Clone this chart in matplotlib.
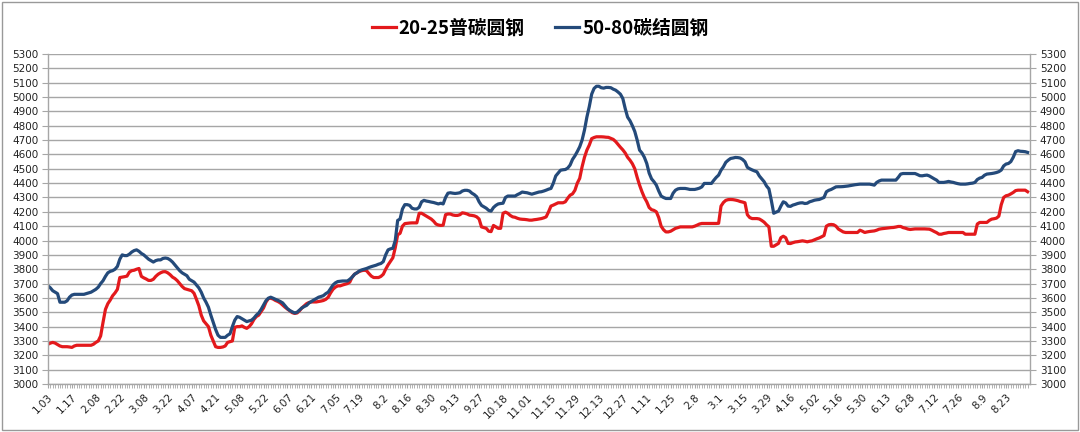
import matplotlib
matplotlib.use("Agg")
import matplotlib.pyplot as plt
import numpy as np
from matplotlib.patches import Rectangle

plt.rcParams['font.family'] = ['Noto Sans CJK SC', 'DejaVu Sans']

# tick labels, one every 10 trading days
tick_labels = ['1.03', '1.17', '2.08', '2.22', '3.08', '3.22', '4.07', '4.21', '5.08', '5.22',
               '6.07', '6.21', '7.05', '7.19', '8.2', '8.16', '8.30', '9.13', '9.27', '10.18',
               '11.01', '11.15', '11.29', '12.13', '12.27', '1.11', '1.25', '2.8', '3.1', '3.15',
               '3.29', '4.16', '5.02', '5.16', '5.30', '6.13', '6.28', '7.12', '7.26', '8.9', '8.23']

# 20-25 普碳圆钢 (red)
plain = [
    3277, 3285, 3290, 3285, 3275, 3265, 3260, 3260, 3260, 3258,
    3255, 3265, 3270, 3270, 3270, 3270, 3270, 3270, 3270, 3277,
    3290, 3300, 3335, 3430, 3520, 3560, 3585, 3615, 3635, 3660,
    3742, 3745, 3748, 3752, 3780, 3790, 3793, 3800, 3805, 3750,
    3740, 3732, 3722, 3722, 3730, 3750, 3765, 3775, 3782, 3783,
    3775, 3762, 3745, 3735, 3720, 3700, 3680, 3665, 3660, 3655,
    3650, 3632, 3590, 3545, 3480, 3440, 3420, 3400, 3340, 3300,
    3260, 3255, 3255, 3258, 3265, 3290, 3295, 3300, 3395, 3400,
    3400, 3405, 3395, 3388, 3400, 3420, 3450, 3470, 3480, 3505,
    3530, 3570, 3595, 3598, 3592, 3582, 3575, 3565, 3550, 3535,
    3522, 3510, 3497, 3492, 3495, 3510, 3530, 3545, 3560, 3568,
    3572, 3572, 3572, 3575, 3578, 3582, 3590, 3605, 3635, 3660,
    3675, 3684, 3684, 3690, 3695, 3700, 3710, 3745, 3765, 3775,
    3784, 3790, 3793, 3790, 3770, 3752, 3742, 3742, 3742, 3750,
    3765, 3800, 3830, 3855, 3880, 3950, 4040, 4050, 4100, 4118,
    4120, 4122, 4123, 4123, 4123, 4190, 4190, 4180, 4170, 4160,
    4150, 4135, 4115, 4108, 4105, 4107, 4180, 4185, 4185, 4178,
    4175, 4175, 4180, 4193, 4190, 4185, 4177, 4175, 4172, 4165,
    4150, 4095, 4090, 4085, 4065, 4062, 4105, 4095, 4085, 4085,
    4190, 4198, 4190, 4175, 4165, 4162, 4155, 4150, 4148, 4147,
    4145, 4142, 4142, 4145, 4147, 4150, 4153, 4158, 4165, 4200,
    4240, 4247, 4255, 4263, 4263, 4263, 4270, 4295, 4316, 4325,
    4350, 4400, 4433, 4514, 4580, 4630, 4665, 4710, 4718, 4723,
    4723, 4723, 4722, 4720, 4719, 4712, 4705, 4690, 4670, 4650,
    4632, 4610, 4580, 4560, 4535, 4500, 4440, 4386, 4340, 4300,
    4270, 4230, 4215, 4210, 4200, 4160, 4100, 4075, 4060, 4060,
    4065, 4075, 4085, 4090, 4095, 4095, 4095, 4095, 4095, 4095,
    4100, 4107, 4115, 4119, 4119, 4119, 4119, 4119, 4119, 4119,
    4120, 4240, 4265, 4280, 4285, 4286, 4285, 4282, 4278, 4272,
    4268, 4263, 4180, 4160, 4153, 4153, 4153, 4150, 4140, 4128,
    4110, 4095, 3960, 3960, 3970, 3980, 4020, 4030, 4020, 3980,
    3979, 3985, 3990, 3992, 3995, 3998, 3995, 3991, 3995, 3998,
    4005, 4012, 4018, 4026, 4035, 4100, 4110, 4112, 4110, 4100,
    4080, 4070, 4060, 4056, 4056, 4056, 4056, 4056, 4056, 4072,
    4065, 4056, 4060, 4063, 4065, 4067, 4072, 4079, 4082, 4084,
    4086, 4088, 4090, 4091, 4094, 4098, 4098, 4090, 4086, 4080,
    4077, 4079, 4081, 4081, 4081, 4081, 4081, 4080, 4079, 4072,
    4063, 4055, 4044, 4044, 4049, 4052, 4056, 4056, 4056, 4056,
    4056, 4056, 4056, 4044, 4044, 4044, 4044, 4044, 4115, 4126,
    4126, 4126, 4126, 4140, 4149, 4152, 4156, 4170, 4250, 4300,
    4312, 4316, 4325, 4335, 4348, 4351, 4351, 4351, 4351, 4340,
]

# 50-80 碳结圆钢 (blue)
struct = [
    3685, 3670, 3650, 3640, 3630, 3570, 3570, 3570, 3580, 3605,
    3620, 3625, 3625, 3625, 3625, 3625, 3630, 3635, 3640, 3650,
    3660, 3675, 3700, 3720, 3750, 3775, 3785, 3790, 3800, 3820,
    3870, 3900, 3895, 3895, 3905, 3920, 3930, 3935, 3925, 3910,
    3900, 3885, 3870, 3860, 3850, 3860, 3865, 3865, 3875, 3878,
    3875, 3865, 3850, 3830, 3810, 3790, 3775, 3765, 3755, 3730,
    3720, 3710, 3690, 3670, 3640, 3600, 3570, 3535, 3480, 3430,
    3380, 3340, 3325, 3325, 3325, 3340, 3350, 3400, 3445, 3470,
    3465, 3455, 3445, 3435, 3440, 3445, 3460, 3480, 3495, 3520,
    3550, 3580, 3598, 3605, 3598, 3590, 3583, 3575, 3565, 3545,
    3525, 3512, 3503, 3495, 3500, 3515, 3530, 3540, 3548, 3565,
    3575, 3586, 3595, 3605, 3610, 3616, 3630, 3640, 3665, 3690,
    3705, 3714, 3716, 3718, 3718, 3718, 3730, 3745, 3765, 3775,
    3788, 3795, 3800, 3805, 3812, 3818, 3823, 3828, 3835, 3840,
    3853, 3900, 3935, 3942, 3946, 4000, 4140, 4150, 4220, 4250,
    4250, 4245, 4225, 4220, 4220, 4232, 4270, 4280, 4275, 4272,
    4268, 4265, 4260, 4255, 4260, 4255, 4300, 4330, 4333, 4330,
    4328, 4330, 4333, 4345, 4350, 4350, 4345, 4330, 4320, 4305,
    4270, 4245, 4235, 4225, 4210, 4205, 4230, 4245, 4255, 4258,
    4260, 4300, 4310, 4310, 4310, 4310, 4320, 4328, 4338, 4335,
    4333, 4328, 4323, 4328, 4333, 4338, 4340, 4345, 4351, 4358,
    4363, 4400, 4450, 4470, 4490, 4493, 4495, 4505, 4526, 4565,
    4590, 4620, 4653, 4700, 4770, 4860, 4933, 5020, 5060, 5075,
    5075, 5065, 5062, 5067, 5067, 5065, 5055, 5048, 5035, 5020,
    4990, 4920, 4860, 4835, 4800, 4760, 4700, 4630, 4610, 4580,
    4537, 4470, 4430, 4410, 4386, 4345, 4310, 4300, 4293, 4293,
    4293, 4330, 4351, 4360, 4363, 4363, 4363, 4360, 4356, 4356,
    4356, 4360, 4365, 4374, 4398, 4398, 4398, 4398, 4420, 4440,
    4456, 4490, 4514, 4545, 4560, 4572, 4575, 4579, 4578, 4575,
    4565, 4549, 4510, 4500, 4492, 4485, 4479, 4450, 4430, 4410,
    4380, 4360, 4280, 4190, 4198, 4205, 4240, 4270, 4262, 4240,
    4238, 4247, 4252, 4258, 4262, 4263, 4258, 4260, 4270, 4275,
    4281, 4284, 4286, 4293, 4300, 4340, 4350, 4356, 4365, 4374,
    4375, 4375, 4376, 4378, 4380, 4383, 4386, 4389, 4391, 4393,
    4393, 4393, 4393, 4393, 4390, 4386, 4405, 4415, 4421, 4421,
    4421, 4421, 4421, 4421, 4421, 4440, 4463, 4467, 4467, 4467,
    4467, 4467, 4467, 4460, 4452, 4451, 4454, 4456, 4450, 4440,
    4430, 4421, 4405, 4405, 4405, 4408, 4412, 4408, 4405, 4400,
    4396, 4393, 4393, 4393, 4395, 4398, 4400, 4405, 4425, 4435,
    4440, 4455, 4463, 4465, 4467, 4470, 4474, 4480, 4491, 4520,
    4533, 4537, 4550, 4580, 4620, 4626, 4622, 4621, 4619, 4614,
]

red = '#e3191c'
blue = '#244a7a'
grid_c = '#a6a6a6'

x = np.arange(len(plain))

fig = plt.figure(figsize=(10.8, 4.32), dpi=100)
ax = fig.add_axes([0.0444, 0.1111, 0.9093, 0.7639])

ax.plot(x, plain, color=red, lw=2.3, label='20-25普碳圆钢', solid_joinstyle='round')
ax.plot(x, struct, color=blue, lw=2.3, label='50-80碳结圆钢', solid_joinstyle='round')

ax.set_ylim(3000, 5300)
ax.set_xlim(0, 410)
ax.set_yticks(np.arange(3000, 5301, 100))
ax.yaxis.grid(True, color=grid_c, lw=1)
ax.set_axisbelow(True)

ax.set_xticks(np.arange(0, len(tick_labels) * 10, 10))
ax.set_xticklabels(tick_labels, rotation=45, ha='right', rotation_mode='anchor',
                   fontsize=7.5, color='#222222', family=['DejaVu Sans'])
ax.set_xticks(x, minor=True)
ax.tick_params(axis='x', which='both', length=3, color=grid_c, pad=3)

ax.tick_params(axis='y', which='both', length=4, color=grid_c, labelsize=7.5,
               labelcolor='#222222', labelright=True, right=True, pad=3)
for lab in ax.get_yticklabels():
    lab.set_family(['DejaVu Sans'])
for lab in ax.yaxis.get_ticklabels(which='both'):
    lab.set_family(['DejaVu Sans'])

for side in ['left', 'right', 'bottom']:
    ax.spines[side].set_color(grid_c)
    ax.spines[side].set_linewidth(1)
ax.spines['top'].set_visible(False)

fig.legend(loc='upper center', bbox_to_anchor=(0.5, 0.995), ncol=2, frameon=False,
           prop={'family': ['Noto Sans CJK SC', 'DejaVu Sans'], 'weight': 'bold', 'size': 13.5},
           handlelength=1.3, handletextpad=0.15, columnspacing=1.6)

fig.patches.append(Rectangle((0.002, 0.004), 0.996, 0.992, transform=fig.transFigure,
                             fill=False, ec='#999999', lw=1))

fig.savefig('out.png', dpi=100, facecolor='white')
